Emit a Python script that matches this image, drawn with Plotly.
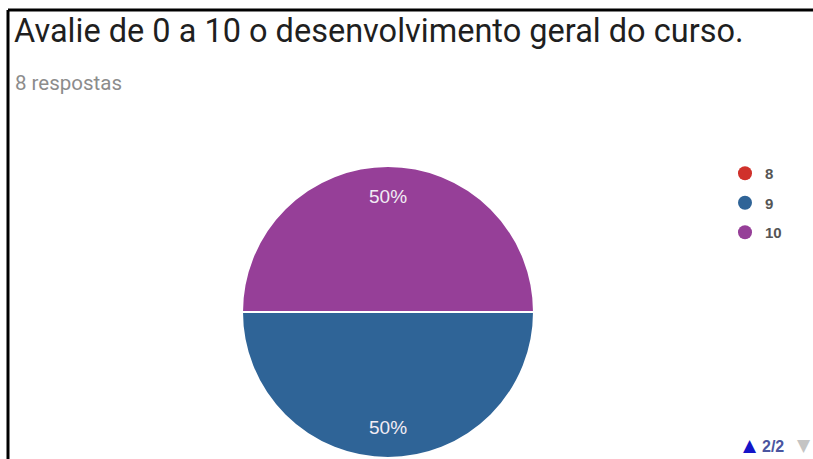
import math
import plotly.graph_objects as go

# Survey results: score given to the course and number of answers
scores = ["8", "9", "10"]
answers = [0, 4, 4]
slice_colors = ["#d0312b", "#2f6497", "#963f98"]

title_text = "Avalie de 0 a 10 o desenvolvimento geral do curso."
subtitle_text = f"{sum(answers)} respostas"
pager_text = "2/2"

W, H = 813, 459

# Pie placement in pixels (centre and radius)
CX, CY, R = 388, 312, 146
LABEL_R = 0.79  # share of the radius where percentage labels sit

fig = go.Figure()

fig.add_trace(go.Pie(
    labels=scores,
    values=answers,
    marker=dict(colors=slice_colors, line=dict(color="#ffffff", width=2)),
    sort=False,
    direction="clockwise",
    rotation=90,
    textinfo="none",
    showlegend=False,
    hoverinfo="label+value+percent",
    domain=dict(x=[(CX - R) / W, (CX + R) / W], y=[(H - CY - R) / H, (H - CY + R) / H]),
))

# Legend entries with round markers, one group per score
for s, c in zip(scores, slice_colors):
    fig.add_trace(go.Scatter(
        x=[None], y=[None], mode="markers", name=s,
        legendgroup=s,
        marker=dict(symbol="circle", size=14, color=c),
        hoverinfo="skip",
    ))

annotations = [
    dict(text=title_text, x=12 / W, y=1 - 31 / H, xref="paper", yref="paper",
         xanchor="left", yanchor="middle", showarrow=False,
         font=dict(family="Roboto, sans-serif", size=32.5, color="#1f1f1f")),
    dict(text=subtitle_text, x=13 / W, y=1 - 83 / H, xref="paper", yref="paper",
         xanchor="left", yanchor="middle", showarrow=False,
         font=dict(family="Roboto, sans-serif", size=20.5, color="#8c8c8c")),
    dict(text="▲", x=750 / W, y=1 - 445 / H, xref="paper", yref="paper",
         xanchor="center", yanchor="middle", showarrow=False,
         font=dict(family="DejaVu Sans, sans-serif", size=17, color="#1414c8")),
    dict(text=f"<b>{pager_text}</b>", x=760 / W, y=1 - 446 / H, xref="paper", yref="paper",
         xanchor="left", yanchor="middle", showarrow=False,
         font=dict(family="Liberation Sans, Arial, sans-serif", size=16, color="#4a55a0")),
    dict(text="▼", x=804 / W, y=1 - 445 / H, xref="paper", yref="paper",
         xanchor="center", yanchor="middle", showarrow=False,
         font=dict(family="DejaVu Sans, sans-serif", size=17, color="#c4c4c4")),
]

# Percentage labels placed along each slice's middle angle, near the rim
total = sum(answers)
start = 0.0
for v in answers:
    if v > 0:
        mid = start + v / 2
        ang = -2 * math.pi * mid / total  # clockwise from 3 o'clock
        lx = CX + LABEL_R * R * math.cos(ang)
        ly = CY - LABEL_R * R * math.sin(ang)
        annotations.append(dict(
            text=f"{v / total:.0%}", x=lx / W, y=1 - ly / H, xref="paper", yref="paper",
            xanchor="center", yanchor="middle", showarrow=False,
            font=dict(family="Liberation Sans, Arial, sans-serif", size=19, color="#f1ecf4"),
        ))
    start += v

fig.update_layout(
    width=W, height=H,
    margin=dict(l=0, r=0, t=0, b=0),
    paper_bgcolor="#ffffff",
    plot_bgcolor="#ffffff",
    xaxis=dict(visible=False),
    yaxis=dict(visible=False),
    legend=dict(
        x=725 / W, y=1 - 157 / H, xanchor="left", yanchor="top",
        font=dict(family="Liberation Sans, Arial, sans-serif", size=15, color="#555555",
                  weight="bold"),
        tracegroupgap=7,
        itemclick=False,
        bgcolor="rgba(0,0,0,0)",
    ),
    annotations=annotations,
    shapes=[
        # frame lines along the top and left edges
        dict(type="line", xref="paper", yref="paper", x0=8 / W, x1=1, y0=1 - 10 / H, y1=1 - 10 / H,
             line=dict(color="#000000", width=3)),
        dict(type="line", xref="paper", yref="paper", x0=8 / W, x1=8 / W, y0=0, y1=1 - 10 / H,
             line=dict(color="#000000", width=3)),
    ],
)

fig.write_html("out.html")
